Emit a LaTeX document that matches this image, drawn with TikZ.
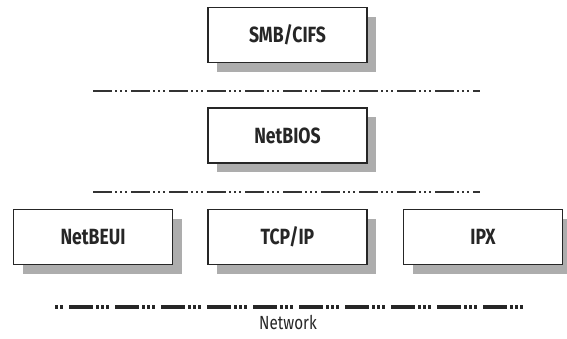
\documentclass[tikz,border=0pt]{standalone}
\usepackage{fontspec}
\newfontfamily\layerfont[FakeStretch=0.8]{Fira Sans}
\usepackage{tikz}
\usetikzlibrary{shadows}

\begin{document}
\begin{tikzpicture}[
  layer/.style={draw=black!85,line width=1.4bp,fill=white,minimum width=159bp,minimum height=55bp,
    font=\layerfont\bfseries\fontsize{22bp}{26bp}\selectfont,text=black!85,
    drop shadow={shadow xshift=9bp,shadow yshift=-9bp,fill=black!40,opacity=0.8}},
  sep/.style={line width=1.5bp,draw=black!80,
    dash pattern=on 19bp off 3bp on 2bp off 3bp on 2bp off 3bp on 2bp off 4bp},
  wire/.style={line width=3.5bp,draw=black!85,
    dash pattern=on 24bp off 3bp on 3bp off 2bp on 3bp off 2bp on 3bp off 6bp,dash phase=30bp}]

\useasboundingbox (0bp,0bp) rectangle (567bp,-339bp);

\node (smb) at (287.5bp,-35bp)[layer] {SMB/CIFS};
\node (netbios) at (287.5bp,-135.5bp)[layer] {NetBIOS};
\node (netbeui) at (93bp,-237bp)[layer] {NetBEUI};
\node (tcpip) at (287.5bp,-237bp)[layer] {TCP/IP};
\node (ipx) at (483bp,-237bp)[layer] {IPX};

\coordinate (s1a) at (93bp,-91bp);
\coordinate (s1b) at (480bp,-91bp);
\coordinate (s2a) at (93bp,-192bp);
\coordinate (s2b) at (480bp,-192bp);
\coordinate (neta) at (53bp,-307bp);
\coordinate (netb) at (523bp,-307bp);

\draw [sep] (s1a) -- (s1b);
\draw [sep] (s2a) -- (s2b);
\draw [wire] (neta) -- (netb) node[midway,below=3bp,font=\layerfont\fontsize{19bp}{22bp}\selectfont,text=black!85] (net) {Network};
\end{tikzpicture}
\end{document}
